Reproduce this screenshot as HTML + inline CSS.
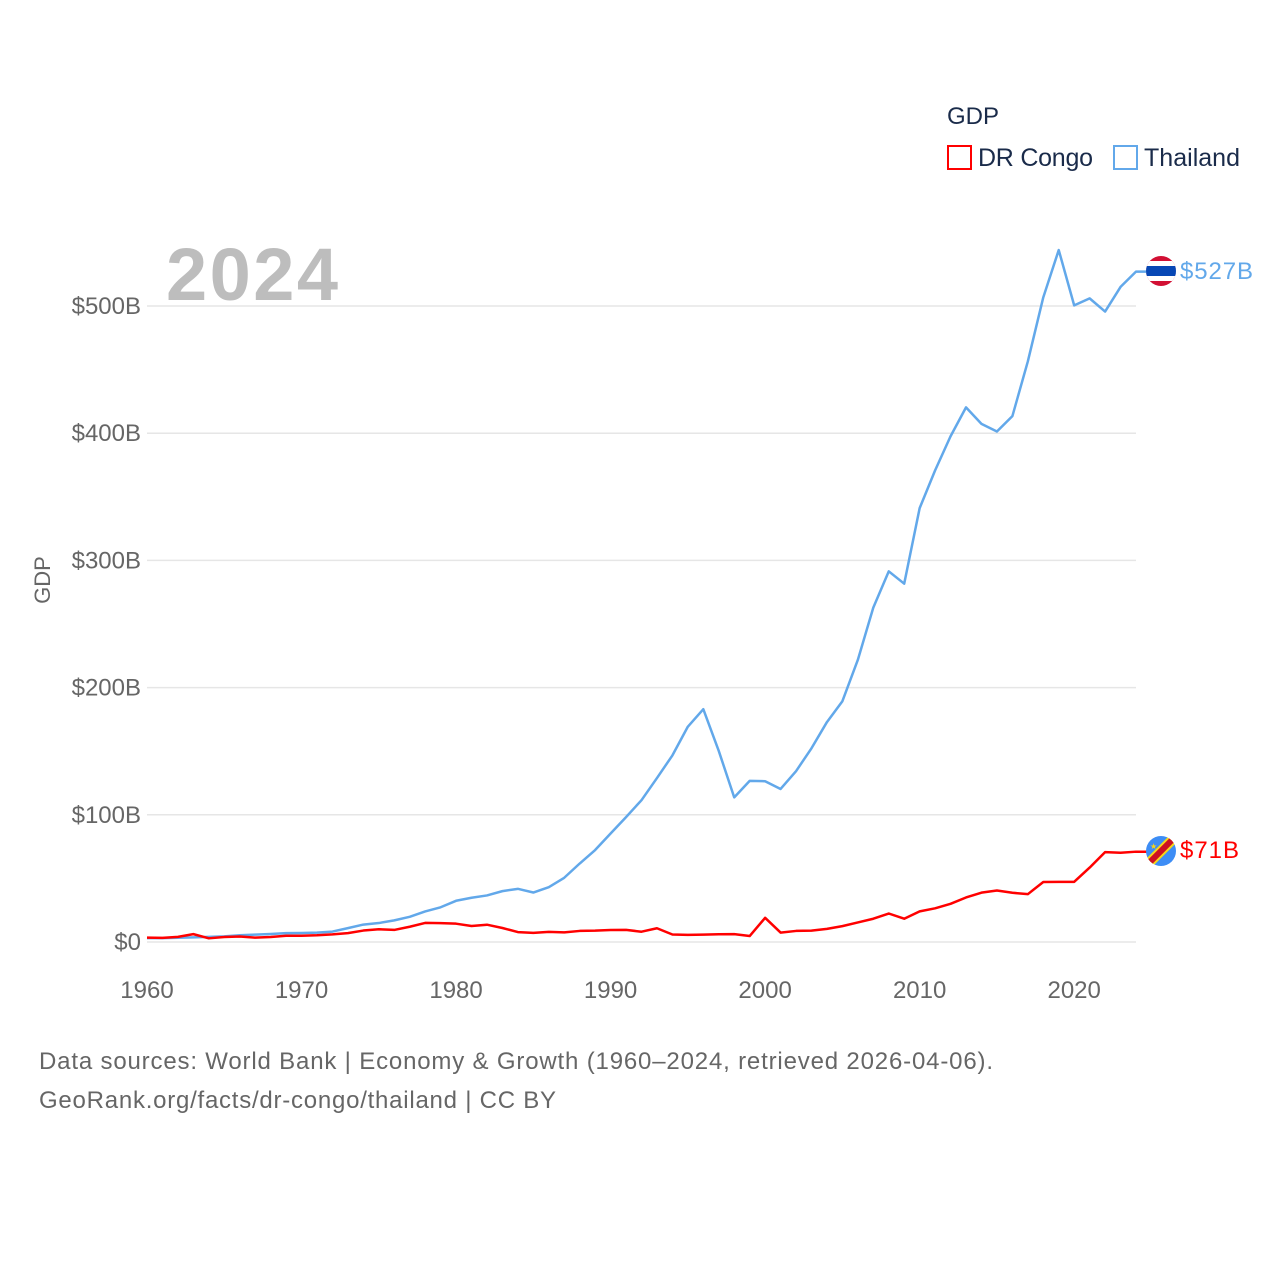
<!DOCTYPE html>
<html><head><meta charset="utf-8"><style>
body{margin:0;background:#fff;font-family:"Liberation Sans",sans-serif}
</style></head><body>
<svg width="1280" height="1280" xmlns="http://www.w3.org/2000/svg" font-family="Liberation Sans, sans-serif">
<text x="947" y="124" font-size="24" fill="#1a2b4a">GDP</text>
<g><rect x="948" y="146" width="23" height="23" fill="none" stroke="#ff0000" stroke-width="2"/><text x="978" y="166" font-size="25" fill="#1a2b4a" textLength="115">DR Congo</text></g>
<g><rect x="1114" y="146" width="23" height="23" fill="none" stroke="#62a8ea" stroke-width="2"/><text x="1144" y="166" font-size="25" fill="#1a2b4a" textLength="96">Thailand</text></g>
<text x="166" y="300" font-size="74" font-weight="bold" fill="#bdbdbd" textLength="172">2024</text>
<text transform="translate(50,580) rotate(-90)" text-anchor="middle" font-size="22" fill="#666">GDP</text>
<g id="grid"></g><g id="yt"></g><g id="xt"></g><g id="lines"></g>
<g><clipPath id="c1"><circle cx="1161" cy="271" r="15"/></clipPath><g clip-path="url(#c1)"><rect x="1146" y="256" width="30" height="30" fill="#d21034"/><rect x="1146" y="261" width="30" height="20" fill="#fff"/><rect x="1146" y="266" width="30" height="10" fill="#0747b5"/></g></g>
<text x="1180" y="279" font-size="24" fill="#62a8ea" textLength="73">$527B</text>
<g><clipPath id="c2"><circle cx="1161" cy="851" r="15"/></clipPath><g clip-path="url(#c2)"><rect x="1146" y="836" width="30" height="30" fill="#3d8df5"/><line x1="1146" y1="866" x2="1176" y2="836" stroke="#f7d618" stroke-width="10"/><line x1="1146" y1="866" x2="1176" y2="836" stroke="#ce1021" stroke-width="6"/><text x="1150" y="849" font-size="8" fill="#f7d618">★</text></g></g>
<text x="1180" y="858" font-size="24" fill="#ff0000" textLength="59">$71B</text>
<text x="39" y="1069" font-size="24" fill="#666" textLength="954">Data sources: World Bank | Economy &amp; Growth (1960–2024, retrieved 2026-04-06).</text>
<text x="39" y="1108" font-size="24" fill="#666" textLength="517">GeoRank.org/facts/dr-congo/thailand | CC BY</text>
</svg>
<script>
const startYear = 1960;
const thailand = [3,3,3.3,3.6,4,4.4,5.3,5.8,6.3,7,7.1,7.4,8.2,10.9,13.7,14.9,17,19.8,24,27.3,32.4,34.8,36.6,40,41.8,38.9,43.1,50.5,61.7,72.3,85.3,98.2,111.5,128.9,146.7,169.3,183,150.2,113.7,126.7,126.4,120.3,134.3,152.3,172.9,189.3,221.8,262.9,291.4,281.7,341.1,370.8,397.6,420.3,407.3,401.3,413.4,456.4,506.8,544,500.5,506,495.6,515,527];
const drCongo = [3.4,3.2,4,6.2,2.9,3.9,4.3,3.4,3.9,4.9,4.9,5.3,6,7,9,10,9.5,12,15,14.8,14.4,12.6,13.6,11,7.8,7.2,8,7.6,8.7,8.9,9.4,9.5,8.1,10.8,5.9,5.6,5.8,6.1,6.2,4.7,19,7.4,8.7,8.9,10.3,12.5,15.4,18.3,22.4,18.3,24.1,26.5,30,35,38.8,40.5,38.7,37.6,47.2,47.3,47.3,58.5,70.7,70.2,71];
const yTicks = [0,100,200,300,400,500];
const yTickLabels = ["$0","$100B","$200B","$300B","$400B","$500B"];
const xTicks = [1960,1970,1980,1990,2000,2010,2020];
const NS="http://www.w3.org/2000/svg";
const X = yr => 147 + (yr-1960)*(1136-147)/64;
const Y = v => 942 - v*(942-306)/500;
function mk(t,a,p){const e=document.createElementNS(NS,t);for(const k in a)e.setAttribute(k,a[k]);document.getElementById(p).appendChild(e);return e;}
yTicks.forEach((v,i)=>{
 const l=mk('line',{x1:147,x2:1136,y1:Y(v),y2:Y(v),stroke:'#e6e6e6','stroke-width':1.5},'grid');
 
 
 const t=mk('text',{x:141,y:Y(v)+8,'text-anchor':'end','font-size':24,fill:'#666'},'yt');
 t.textContent=yTickLabels[i];
 
 
});
xTicks.forEach(yr=>{
 const t=mk('text',{x:X(yr),y:998,'text-anchor':'middle','font-size':24,fill:'#666'},'xt');
 t.textContent=yr;
 
 
});
function line(data,color,name,flagX){
 let pts=data.map((v,i)=>X(startYear+i)+','+Y(v));
 pts.push(flagX+','+Y(data[data.length-1]));
 const p=mk('polyline',{points:pts.join(' '),fill:'none',stroke:color,'stroke-width':2.5,'stroke-linejoin':'round'},'lines');
 
 
}
line(thailand,'#62a8ea','thailand-line',1150);
line(drCongo,'#ff0000','dr-congo-line',1150);
</script>
</body></html>
